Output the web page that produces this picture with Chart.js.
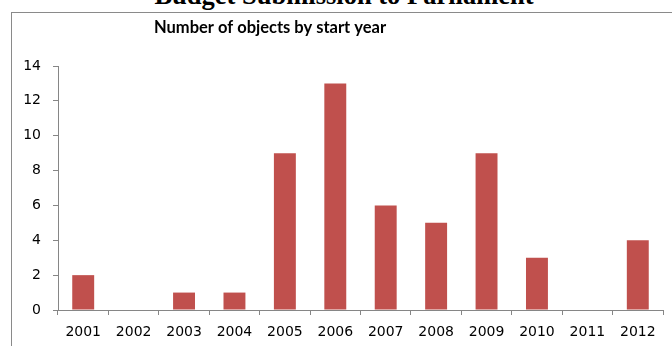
<!DOCTYPE html>
<html>
<head>
<meta charset="utf-8">
<script src="https://cdn.jsdelivr.net/npm/chart.js@4"></script>
<style>
  body { margin: 0; background: #fff; }
  #page { position: relative; width: 672px; height: 346px; overflow: hidden; background: #fff; }
  #titreDocument {
    position: absolute; left: 0; width: 688px; top: -18px;
    text-align: center; font: bold 26.5px "Liberation Serif", serif; line-height: 26.5px; color: #000;
  }
  #cadre {
    position: absolute; left: 11px; top: 12px; width: 700px; height: 400px;
    border-left: 1px solid #8a8a8a; border-top: 1px solid #8a8a8a;
  }
  #myChart { position: absolute; left: 0; top: 0; }
</style>
</head>
<body>
<div id="page">
  <div id="titreDocument">Budget Submission to Parliament</div>
  <div id="cadre"></div>
  <canvas id="myChart" width="672" height="346"></canvas>
</div>
<script>
// nombre d'objets par année de début
const annees = ['2001', '2002', '2003', '2004', '2005', '2006', '2007', '2008', '2009', '2010', '2011', '2012'];
const nombreObjets = [2, 0, 1, 1, 9, 13, 6, 5, 9, 3, 0, 4];
const graduationsY = [0, 2, 4, 6, 8, 10, 12, 14];

const titreGraphique = 'Number of objects by start year';
const couleurAxe = '#868686';
const policeAxes = { family: '"DejaVu Sans", sans-serif', size: 14 };

// titre dessiné à la main pour le décaler vers la gauche comme dans Excel
const pluginTitre = {
  id: 'titreGraphique',
  afterDraw(chart) {
    const c = chart.ctx;
    c.save();
    c.font = 'bold 16.5px Lato, sans-serif';
    c.fillStyle = '#000';
    c.textAlign = 'center';
    c.textBaseline = 'alphabetic';
    c.fillText(titreGraphique, 270, 33);
    c.restore();
  }
};

const ctx = document.getElementById('myChart');

new Chart(ctx, {
  type: 'bar',
  data: {
    labels: annees,
    datasets: [{
      label: titreGraphique,
      data: nombreObjets,
      backgroundColor: '#C0504D',
      borderWidth: 0,
      categoryPercentage: 1,
      barPercentage: 0.435
    }]
  },
  options: {
    responsive: false,
    animation: false,
    layout: { padding: { top: 66, right: 9, left: 0, bottom: 0 } },
    plugins: {
      legend: { display: false },
      title: { display: false },
      tooltip: { enabled: false }
    },
    scales: {
      x: {
        afterFit(scale) { scale.height = 36; },
        grid: { drawOnChartArea: false, color: couleurAxe, tickLength: 5 },
        border: { color: couleurAxe },
        ticks: { color: '#000', font: policeAxes, padding: 9, maxRotation: 0, autoSkip: false }
      },
      y: {
        min: 0,
        max: 14,
        afterFit(scale) { scale.width = 58; },
        afterBuildTicks(scale) { scale.ticks = graduationsY.map(v => ({ value: v })); },
        grid: { drawOnChartArea: false, color: couleurAxe, tickLength: 5 },
        border: { color: couleurAxe },
        ticks: { color: '#000', font: policeAxes, padding: 12 }
      }
    }
  },
  plugins: [pluginTitre]
});
</script>
</body>
</html>
